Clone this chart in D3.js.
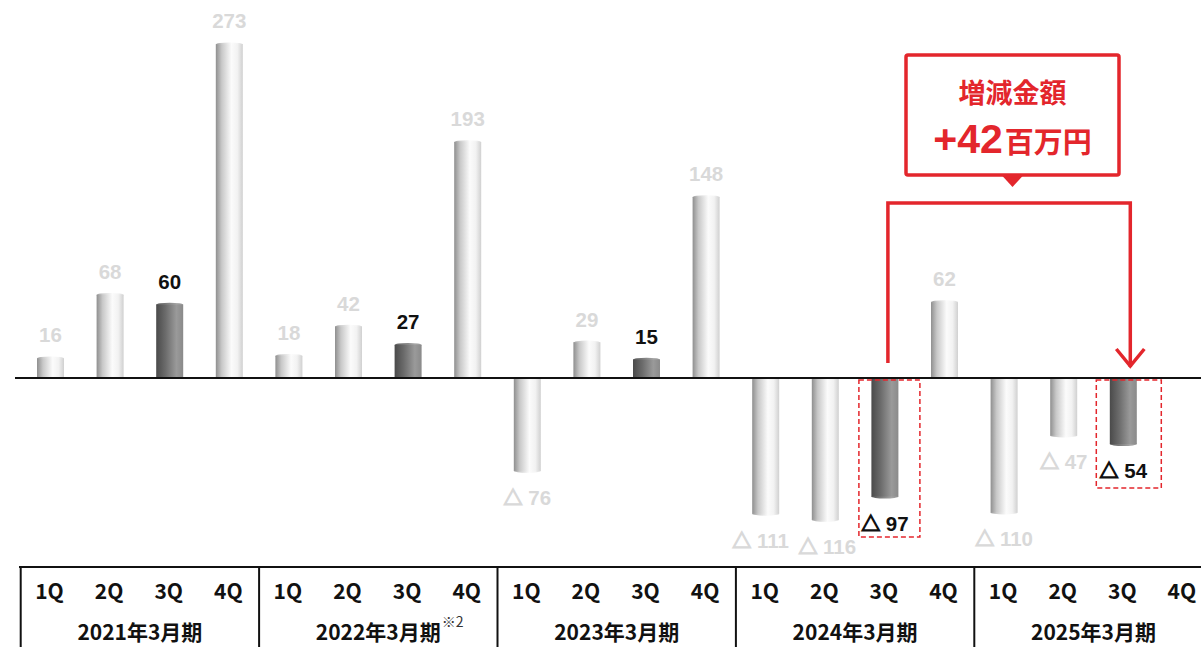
<!DOCTYPE html>
<html><head><meta charset="utf-8">
<script src="https://cdn.jsdelivr.net/npm/d3@7/dist/d3.min.js"></script>
<style>
html,body{margin:0;padding:0;background:#fff;}
svg{display:block;}
</style></head>
<body>
<svg id="chart" width="1201" height="647"></svg>
<script>
// ---- data ----
const years = ["2021年3月期", "2022年3月期", "2023年3月期", "2024年3月期", "2025年3月期"];
const quarters = ["1Q", "2Q", "3Q", "4Q"];
const values = [16, 68, 60, 273, 18, 42, 27, 193, -76, 29, 15, 148, -111, -116, -97, 62, -110, -47, -54, null];
const highlightQuarter = "3Q";
const yearNotes = ["", "※2", "", "", ""];
const calloutTitle = "増減金額";
const calloutValue = "+42";
const calloutUnit = "百万円";
const compareFrom = 14; // 2024年3月期 3Q
const compareTo = 18;   // 2025年3月期 3Q

const red = "#e3262c";
const svg = d3.select("#chart");
const defs = svg.append("defs");

const keys = [];
years.forEach((y, yi) => quarters.forEach(q => keys.push({year: y, yi, q, key: y + q})));
const data = keys.map((k, i) => ({...k, i, v: values[i]}));

const x = d3.scaleBand().domain(data.map(d => d.key)).range([20.7, 1212.7]).padding(0);
const step = x.bandwidth();
const barW = 27;
const y = d3.scaleLinear().domain([0, 273]).range([378, 44.4]);
const cx = d => x(d.key) + step / 2;

// gradients
const gLight = defs.append("linearGradient").attr("id", "gLight").attr("x1", "0").attr("x2", "1").attr("y1", "0").attr("y2", "0");
[["0%", "#8f8f8f"], ["22%", "#c8c8c8"], ["58%", "#fbfbfb"], ["80%", "#f2f2f2"], ["100%", "#d0d0d0"]]
  .forEach(([o, c]) => gLight.append("stop").attr("offset", o).attr("stop-color", c));
const gDark = defs.append("linearGradient").attr("id", "gDark").attr("x1", "0").attr("x2", "1").attr("y1", "0").attr("y2", "0");
[["0%", "#4a4a4a"], ["35%", "#6c6c6c"], ["75%", "#9a9a9a"], ["100%", "#8a8a8a"]]
  .forEach(([o, c]) => gDark.append("stop").attr("offset", o).attr("stop-color", c));

const bars = data.filter(d => d.v !== null);
const isHi = d => d.q === highlightQuarter;

// bars (cylinders)
const bg = svg.append("g");
bars.forEach(d => {
  const top = Math.min(y(d.v), y(0));
  const h = Math.abs(y(d.v) - y(0));
  const fill = isHi(d) ? "url(#gDark)" : "url(#gLight)";
  bg.append("rect").attr("x", cx(d) - barW / 2).attr("y", top).attr("width", barW).attr("height", h).attr("fill", fill);
  bg.append("ellipse").attr("cx", cx(d)).attr("cy", y(d.v)).attr("rx", barW / 2).attr("ry", 2)
    .attr("fill", fill).attr("opacity", 0.9);
});

// baseline
svg.append("line").attr("x1", 15).attr("x2", 1201).attr("y1", y(0)).attr("y2", y(0))
  .attr("stroke", "#111").attr("stroke-width", 2);

// value labels
const lbl = svg.append("g").selectAll("text").data(bars).join("text")
  .attr("x", d => cx(d) + (d.i === 12 ? -5 : 0) + (d.i === 13 ? 2 : 0))
  .attr("y", d => d.v >= 0 ? y(d.v) - 16 : y(d.v) + 34)
  .attr("text-anchor", "middle")
  .attr("font-family", "'Liberation Sans', Arial, sans-serif")
  .attr("font-weight", "bold").attr("font-size", 20.5)
  .attr("fill", d => isHi(d) ? "#111" : "#d9d9d9");
lbl.each(function(d) {
  const t = d3.select(this);
  if (d.v >= 0) { t.text(d.v); return; }
  t.append("tspan").attr("font-family", "'Noto Sans CJK JP', sans-serif").attr("font-weight", "bold")
    .attr("font-size", 19).attr("stroke", isHi(d) ? "#111" : "#d9d9d9").attr("stroke-width", 1.3)
    .text("△");
  t.append("tspan").text(" " + Math.abs(d.v));
});

// dashed highlight boxes
[{i: compareFrom, bottom: 537}, {i: compareTo, bottom: 488}].forEach(b => {
  const d = data[b.i];
  const w = (b.i === compareFrom) ? 61 : 65;
  const left = (b.i === compareFrom) ? cx(d) - 26 : cx(d) - 27;
  svg.append("rect").attr("x", left).attr("y", y(0) + 2).attr("width", w).attr("height", b.bottom - y(0) - 2)
    .attr("fill", "none").attr("stroke", red).attr("stroke-width", 1.5).attr("stroke-dasharray", "5,3");
});

// bracket arrow
const bx1 = cx(data[compareFrom]) + 3, bx2 = cx(data[compareTo]) + 7, by = 203;
svg.append("path").attr("d", `M${bx1},363 V${by} H${bx2} V367`)
  .attr("fill", "none").attr("stroke", red).attr("stroke-width", 3.5);
svg.append("path").attr("d", `M${bx2 - 14},349 L${bx2},366 L${bx2 + 14},349`)
  .attr("fill", "none").attr("stroke", red).attr("stroke-width", 3.5);

// callout box
const boxX = 906, boxY = 55, boxW = 213, boxH = 120;
const bcx = boxX + boxW / 2;
svg.append("rect").attr("x", boxX).attr("y", boxY).attr("width", boxW).attr("height", boxH).attr("rx", 2)
  .attr("fill", "#fff").attr("stroke", red).attr("stroke-width", 3.5);
svg.append("path").attr("d", `M${bcx - 11},${boxY + boxH} L${bcx + 11},${boxY + boxH} L${bcx},${boxY + boxH + 12} Z`)
  .attr("fill", red);
svg.append("text").attr("x", bcx).attr("y", 103).attr("text-anchor", "middle")
  .attr("font-family", "'Noto Sans CJK JP', sans-serif").attr("font-weight", "bold").attr("font-size", 27)
  .attr("fill", red).text(calloutTitle);
const vt = svg.append("text").attr("x", bcx).attr("y", 153).attr("text-anchor", "middle").attr("fill", red).attr("font-weight", "bold");
vt.append("tspan").attr("font-family", "'Liberation Sans', Arial, sans-serif").attr("font-size", 41).text(calloutValue);
vt.append("tspan").attr("font-family", "'Noto Sans CJK JP', sans-serif").attr("font-size", 29).attr("dx", 2).text(calloutUnit);

// table
const tTop = 567;
svg.append("line").attr("x1", 19).attr("x2", 1201).attr("y1", tTop).attr("y2", tTop).attr("stroke", "#111").attr("stroke-width", 2);
const yearStart = yi => x(data[yi * 4].key);
years.forEach((yr, yi) => {
  svg.append("line").attr("x1", yearStart(yi)).attr("x2", yearStart(yi)).attr("y1", tTop).attr("y2", 647)
    .attr("stroke", "#111").attr("stroke-width", 2);
});
svg.append("g").selectAll("text").data(data).join("text")
  .attr("x", d => cx(d) - 1).attr("y", 599).attr("text-anchor", "middle")
  .attr("font-family", "'Noto Sans CJK JP', sans-serif").attr("font-weight", "bold").attr("font-size", 21)
  .attr("fill", "#111").text(d => d.q);
years.forEach((yr, yi) => {
  const mid = yearStart(yi) + step * 2;
  const t = svg.append("text").attr("x", mid).attr("y", 640).attr("text-anchor", "middle")
    .attr("font-family", "'Noto Sans CJK JP', sans-serif").attr("font-weight", "bold").attr("font-size", 21)
    .attr("fill", "#111").text(yr);
  if (yearNotes[yi]) {
    const bb = t.node().getBBox();
    svg.append("text").attr("x", bb.x + bb.width + 1).attr("y", 627)
      .attr("font-family", "'Noto Sans CJK JP', sans-serif").attr("font-size", 14).attr("fill", "#333")
      .text(yearNotes[yi]);
  }
});
</script>
</body></html>
